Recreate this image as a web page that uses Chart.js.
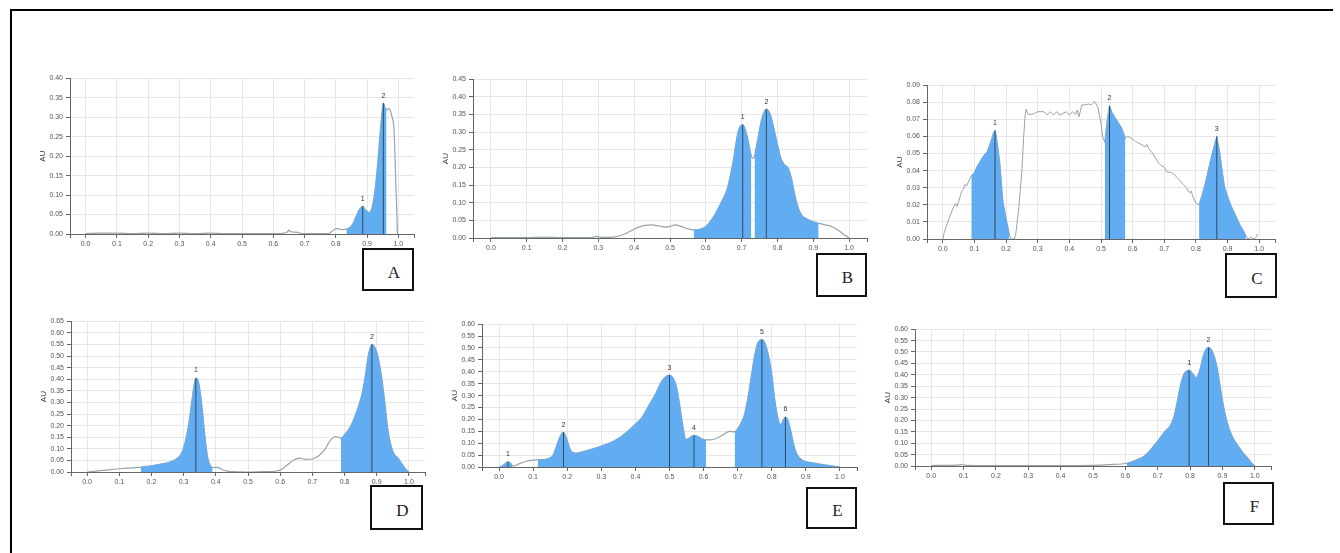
<!DOCTYPE html>
<html>
<head>
<meta charset="utf-8">
<script src="https://cdn.jsdelivr.net/npm/chart.js@4.4.1/dist/chart.umd.min.js"></script>
<style>
body { margin: 0; background: #fff; width: 1340px; height: 553px; overflow: hidden; position: relative; }
.frame { position: absolute; left: 10px; top: 9px; width: 1321px; height: 600px; border-left: 2px solid #000; border-top: 2px solid #000; }
canvas { position: absolute; }
.tag { position: absolute; box-sizing: border-box; border: 2px solid #111; background: #fff;
       font: 17px "Liberation Serif", "DejaVu Serif", serif; color: #222;
       display: flex; align-items: center; justify-content: center; padding: 6px 0 0 12px; }
</style>
</head>
<body>
<div class="frame"></div>
<script>
// shared x ticks
const xTicks = [0, 0.1, 0.2, 0.3, 0.4, 0.5, 0.6, 0.7, 0.8, 0.9, 1.0];

// A
const xA = [0, 0.05, 0.1, 0.15, 0.2, 0.25, 0.3, 0.35, 0.4, 0.45, 0.5, 0.55, 0.6, 0.63, 0.645, 0.65, 0.655, 0.665, 0.68, 0.69, 0.72, 0.76, 0.78, 0.79, 0.80, 0.81, 0.82, 0.83, 0.834, 0.845, 0.855, 0.865, 0.875, 0.886, 0.895, 0.906, 0.915, 0.925, 0.935, 0.944, 0.952, 0.957, 0.962, 0.968, 0.974, 0.98, 0.986, 0.99, 0.994, 0.997];
const yA = [0.001, 0.002, 0.002, 0.001, 0.002, 0.001, 0.002, 0.001, 0.002, 0.001, 0.001, 0.001, 0.001, 0.002, 0.005, 0.010, 0.006, 0.005, 0.004, 0.001, 0.001, 0.001, 0.002, 0.008, 0.014, 0.013, 0.011, 0.012, 0.013, 0.017, 0.027, 0.045, 0.062, 0.071, 0.062, 0.055, 0.065, 0.110, 0.190, 0.280, 0.336, 0.326, 0.318, 0.322, 0.318, 0.300, 0.270, 0.180, 0.080, 0.0];
const yTicksA = [0, 0.05, 0.10, 0.15, 0.20, 0.25, 0.30, 0.35, 0.40];
const segA = [[0.834, 0.962]];
const peaksA = [0.886, 0.952];

// B
const xB = [0, 0.05, 0.1, 0.15, 0.2, 0.25, 0.28, 0.29, 0.295, 0.30, 0.31, 0.33, 0.35, 0.37, 0.39, 0.41, 0.43, 0.45, 0.47, 0.49, 0.50, 0.515, 0.53, 0.55, 0.566, 0.58, 0.60, 0.62, 0.64, 0.66, 0.675, 0.69, 0.703, 0.715, 0.727, 0.732, 0.736, 0.745, 0.757, 0.769, 0.78, 0.79, 0.80, 0.81, 0.82, 0.83, 0.84, 0.85, 0.86, 0.87, 0.88, 0.90, 0.915, 0.93, 0.95, 0.97, 0.985, 1.0];
const yB = [0.001, 0.001, 0.001, 0.002, 0.001, 0.001, 0.001, 0.003, 0.005, 0.003, 0.002, 0.002, 0.004, 0.010, 0.020, 0.030, 0.036, 0.037, 0.034, 0.031, 0.033, 0.037, 0.033, 0.026, 0.023, 0.024, 0.033, 0.058, 0.095, 0.140, 0.210, 0.300, 0.321, 0.290, 0.232, 0.225, 0.232, 0.280, 0.340, 0.365, 0.350, 0.310, 0.265, 0.225, 0.207, 0.198, 0.165, 0.115, 0.080, 0.062, 0.055, 0.046, 0.042, 0.038, 0.033, 0.022, 0.010, 0.0];
const yTicksB = [0, 0.05, 0.10, 0.15, 0.20, 0.25, 0.30, 0.35, 0.40, 0.45];
const segB = [[0.566, 0.727], [0.736, 0.915]];
const peaksB = [0.703, 0.769];

// C
const xC = [0, 0.005, 0.01, 0.02, 0.03, 0.04, 0.045, 0.05, 0.06, 0.065, 0.07, 0.075, 0.08, 0.09, 0.10, 0.11, 0.12, 0.13, 0.14, 0.15, 0.16, 0.165, 0.17, 0.18, 0.19, 0.20, 0.21, 0.215, 0.225, 0.23, 0.24, 0.25, 0.255, 0.26, 0.263, 0.27, 0.28, 0.29, 0.30, 0.31, 0.32, 0.33, 0.34, 0.35, 0.36, 0.37, 0.38, 0.39, 0.40, 0.41, 0.42, 0.425, 0.43, 0.44, 0.45, 0.46, 0.47, 0.475, 0.48, 0.49, 0.50, 0.505, 0.512, 0.52, 0.527, 0.535, 0.545, 0.555, 0.565, 0.577, 0.585, 0.595, 0.61, 0.62, 0.63, 0.64, 0.645, 0.65, 0.66, 0.67, 0.68, 0.69, 0.70, 0.71, 0.72, 0.73, 0.74, 0.75, 0.76, 0.77, 0.78, 0.785, 0.79, 0.80, 0.81, 0.82, 0.83, 0.84, 0.85, 0.86, 0.866, 0.875, 0.88, 0.89, 0.90, 0.91, 0.92, 0.93, 0.94, 0.95, 0.958, 0.965, 0.975, 0.985, 0.99, 0.995];
const yC = [0.0, 0.004, 0.007, 0.012, 0.017, 0.021, 0.019, 0.022, 0.028, 0.029, 0.032, 0.031, 0.033, 0.037, 0.039, 0.043, 0.046, 0.049, 0.051, 0.056, 0.062, 0.0635, 0.059, 0.045, 0.022, 0.012, 0.003, 0.0, 0.0, 0.002, 0.018, 0.040, 0.058, 0.072, 0.076, 0.073, 0.073, 0.0735, 0.0745, 0.0745, 0.0745, 0.0725, 0.0745, 0.0725, 0.0745, 0.0725, 0.0735, 0.0745, 0.0725, 0.0745, 0.073, 0.0755, 0.0715, 0.0785, 0.0785, 0.079, 0.0785, 0.0795, 0.0805, 0.077, 0.068, 0.060, 0.0565, 0.070, 0.078, 0.074, 0.071, 0.068, 0.065, 0.059, 0.060, 0.059, 0.057, 0.056, 0.055, 0.054, 0.0555, 0.053, 0.051, 0.048, 0.045, 0.043, 0.042, 0.039, 0.039, 0.038, 0.036, 0.034, 0.032, 0.030, 0.027, 0.028, 0.025, 0.021, 0.020, 0.026, 0.033, 0.041, 0.049, 0.056, 0.060, 0.051, 0.044, 0.031, 0.025, 0.020, 0.016, 0.012, 0.008, 0.005, 0.002, 0.0, 0.001, 0.0, 0.001, 0.003];
const yTicksC = [0, 0.01, 0.02, 0.03, 0.04, 0.05, 0.06, 0.07, 0.08, 0.09];
const segC = [[0.09, 0.21], [0.512, 0.577], [0.81, 0.958]];
const peaksC = [0.165, 0.527, 0.866];

// D
const xD = [0, 0.05, 0.1, 0.15, 0.167, 0.2, 0.23, 0.25, 0.27, 0.285, 0.295, 0.305, 0.315, 0.325, 0.332, 0.338, 0.345, 0.352, 0.36, 0.368, 0.375, 0.383, 0.39, 0.40, 0.41, 0.42, 0.44, 0.47, 0.50, 0.55, 0.58, 0.60, 0.62, 0.64, 0.66, 0.68, 0.70, 0.72, 0.74, 0.755, 0.772, 0.789, 0.80, 0.82, 0.84, 0.855, 0.865, 0.875, 0.885, 0.895, 0.905, 0.915, 0.925, 0.935, 0.945, 0.955, 0.965, 0.975, 0.99, 1.0];
const yD = [0.0, 0.007, 0.014, 0.019, 0.021, 0.027, 0.034, 0.040, 0.050, 0.065, 0.085, 0.130, 0.200, 0.300, 0.370, 0.405, 0.395, 0.340, 0.240, 0.130, 0.060, 0.028, 0.019, 0.020, 0.018, 0.010, 0.003, 0.001, 0.0, 0.002, 0.003, 0.008, 0.028, 0.050, 0.060, 0.054, 0.056, 0.070, 0.100, 0.135, 0.153, 0.146, 0.160, 0.200, 0.270, 0.340, 0.420, 0.510, 0.550, 0.535, 0.490, 0.410, 0.300, 0.180, 0.110, 0.075, 0.062, 0.042, 0.012, 0.0];
const yTicksD = [0, 0.05, 0.10, 0.15, 0.20, 0.25, 0.30, 0.35, 0.40, 0.45, 0.50, 0.55, 0.60, 0.65];
const segD = [[0.167, 0.39], [0.789, 1.0]];
const peaksD = [0.338, 0.885];

// E
const xE = [0, 0.01, 0.018, 0.026, 0.033, 0.039, 0.045, 0.06, 0.08, 0.10, 0.114, 0.13, 0.145, 0.158, 0.168, 0.178, 0.189, 0.198, 0.207, 0.215, 0.225, 0.25, 0.30, 0.35, 0.40, 0.42, 0.44, 0.46, 0.475, 0.488, 0.50, 0.51, 0.52, 0.53, 0.54, 0.548, 0.558, 0.572, 0.585, 0.595, 0.607, 0.62, 0.64, 0.66, 0.675, 0.691, 0.70, 0.71, 0.72, 0.73, 0.74, 0.75, 0.76, 0.771, 0.78, 0.79, 0.80, 0.81, 0.82, 0.826, 0.834, 0.84, 0.848, 0.856, 0.865, 0.875, 0.89, 0.92, 0.95, 0.98, 1.0];
const yE = [0.0, 0.004, 0.015, 0.022, 0.017, 0.006, 0.005, 0.014, 0.024, 0.029, 0.030, 0.031, 0.036, 0.048, 0.085, 0.125, 0.146, 0.120, 0.080, 0.062, 0.058, 0.066, 0.088, 0.120, 0.180, 0.210, 0.260, 0.310, 0.355, 0.378, 0.386, 0.375, 0.340, 0.260, 0.165, 0.115, 0.122, 0.133, 0.127, 0.118, 0.114, 0.114, 0.122, 0.138, 0.150, 0.148, 0.160, 0.185, 0.220, 0.290, 0.380, 0.470, 0.525, 0.535, 0.520, 0.470, 0.390, 0.270, 0.195, 0.178, 0.198, 0.210, 0.195, 0.150, 0.090, 0.050, 0.028, 0.018, 0.010, 0.004, 0.0];
const yTicksE = [0, 0.05, 0.10, 0.15, 0.20, 0.25, 0.30, 0.35, 0.40, 0.45, 0.50, 0.55, 0.60];
const segE = [[0, 0.039], [0.114, 0.607], [0.691, 1.0]];
const peaksE = [0.026, 0.189, 0.50, 0.572, 0.771, 0.84];

// F
const xF = [0, 0.05, 0.09, 0.095, 0.1, 0.15, 0.2, 0.3, 0.4, 0.5, 0.55, 0.605, 0.62, 0.64, 0.66, 0.68, 0.70, 0.72, 0.74, 0.75, 0.76, 0.77, 0.78, 0.797, 0.808, 0.819, 0.83, 0.84, 0.848, 0.857, 0.866, 0.875, 0.885, 0.895, 0.905, 0.915, 0.93, 0.95, 0.965, 0.975, 0.99, 1.0];
const yF = [0.002, 0.003, 0.005, 0.007, 0.004, 0.002, 0.002, 0.002, 0.002, 0.003, 0.006, 0.012, 0.018, 0.030, 0.045, 0.075, 0.110, 0.148, 0.180, 0.215, 0.280, 0.350, 0.400, 0.420, 0.405, 0.387, 0.420, 0.480, 0.510, 0.520, 0.510, 0.480, 0.420, 0.330, 0.250, 0.190, 0.130, 0.085, 0.055, 0.040, 0.013, 0.0];
const yTicksF = [0, 0.05, 0.10, 0.15, 0.20, 0.25, 0.30, 0.35, 0.40, 0.45, 0.50, 0.55, 0.60];
const segF = [[0.605, 1.0]];
const peaksF = [0.797, 0.857];

const letters = ['A', 'B', 'C', 'D', 'E', 'F'];

// layout: plot area [left, top, right, bottom] and letter box [left, top, w, h]
const panels = [
  { xs: xA, ys: yA, yt: yTicksA, seg: segA, peaks: peaksA, area: [70, 76, 414, 234], box: [362, 248, 52, 43], smooth: true },
  { xs: xB, ys: yB, yt: yTicksB, seg: segB, peaks: peaksB, area: [473, 77, 867, 238], box: [816, 253, 51, 44], smooth: true },
  { xs: xC, ys: yC, yt: yTicksC, seg: segC, peaks: peaksC, area: [927, 83, 1275, 239], box: [1225, 253, 52, 45], smooth: false },
  { xs: xD, ys: yD, yt: yTicksD, seg: segD, peaks: peaksD, area: [71, 319, 425, 472], box: [370, 485, 53, 45], smooth: true },
  { xs: xE, ys: yE, yt: yTicksE, seg: segE, peaks: peaksE, area: [482, 322, 857, 467], box: [806, 487, 51, 42], smooth: true },
  { xs: xF, ys: yF, yt: yTicksF, seg: segF, peaks: peaksF, area: [915, 327, 1271, 466], box: [1223, 482, 51, 43], smooth: true }
];

const BLUE = '#62adf1';
const LINE = '#98a3ab';
const PEAK = '#2f4a63';

// peak numbers above each marked peak, plus the outer ticks at both ends of the x axis
const peakLabels = {
  id: 'peakLabels',
  afterDatasetsDraw(chart) {
    const p = chart.options.plugins.peakLabels;
    const ctx = chart.ctx, xs = chart.scales.x, ys = chart.scales.y;
    const a = chart.chartArea;
    ctx.save();
    ctx.strokeStyle = '#666';
    ctx.lineWidth = 1;
    ctx.beginPath();
    [a.left, a.right].forEach(px => {
      ctx.moveTo(Math.round(px) + 0.5, a.bottom);
      ctx.lineTo(Math.round(px) + 0.5, a.bottom + 4);
    });
    ctx.stroke();
    ctx.font = '7px "Liberation Sans", Arial, sans-serif';
    ctx.fillStyle = '#333';
    ctx.textAlign = 'center';
    ctx.textBaseline = 'bottom';
    p.points.forEach((pt, i) => {
      ctx.fillText(String(i + 1), xs.getPixelForValue(pt.x), ys.getPixelForValue(pt.y) - 4);
    });
    ctx.restore();
  }
};

panels.forEach((p, k) => {
  const [L, T, R, B] = p.area;
  const cv = document.createElement('canvas');
  cv.width = R - L + 37;
  cv.height = B - T + 25;
  cv.style.left = (L - 32) + 'px';
  cv.style.top = (T - 5) + 'px';
  document.body.appendChild(cv);

  const tag = document.createElement('div');
  tag.className = 'tag';
  tag.textContent = letters[k];
  tag.style.left = p.box[0] + 'px';
  tag.style.top = p.box[1] + 'px';
  tag.style.width = p.box[2] + 'px';
  tag.style.height = p.box[3] + 'px';
  document.body.appendChild(tag);

  const pts = p.xs.map((x, i) => ({ x: x, y: p.ys[i] }));
  const yAt = x => p.ys[p.xs.indexOf(x)];
  const curve = p.smooth ? { cubicInterpolationMode: 'monotone' } : { tension: 0 };

  const datasets = [];
  p.peaks.forEach(x => {
    datasets.push({ data: [{ x: x, y: 0 }, { x: x, y: yAt(x) }], borderColor: PEAK, borderWidth: 1, pointRadius: 0, fill: false, order: 1 });
  });
  p.seg.forEach(s => {
    datasets.push(Object.assign({
      data: pts.filter(d => d.x >= s[0] && d.x <= s[1]),
      backgroundColor: BLUE, borderColor: BLUE, borderWidth: 0.5, pointRadius: 0, fill: 'origin', order: 2
    }, curve));
  });
  datasets.push(Object.assign({ data: pts, borderColor: LINE, borderWidth: p.smooth ? 1.2 : 1, pointRadius: 0, fill: false, order: 3 }, curve));

  new Chart(cv, {
    type: 'line',
    data: { datasets: datasets },
    plugins: [peakLabels],
    options: {
      responsive: false,
      animation: false,
      layout: { padding: { top: 5, right: 5, left: 0, bottom: 0 } },
      plugins: {
        legend: { display: false },
        tooltip: { enabled: false },
        peakLabels: { points: p.peaks.map(x => ({ x: x, y: yAt(x) })) }
      },
      scales: {
        x: {
          type: 'linear', min: -0.05, max: 1.05,
          afterBuildTicks: s => { s.ticks = xTicks.map(v => ({ value: v })); },
          afterFit: s => { s.height = 20; },
          grid: { color: '#e6e6e6', tickColor: '#666', tickLength: 4 },
          border: { color: '#666', width: 1 },
          ticks: { font: { size: 7, family: '"Liberation Sans", Arial' }, color: '#555', padding: 2, maxRotation: 0, autoSkip: false,
                   callback: v => v.toFixed(1) }
        },
        y: {
          min: 0, max: p.yt[p.yt.length - 1],
          afterBuildTicks: s => { s.ticks = p.yt.map(v => ({ value: v })); },
          afterFit: s => { s.width = 32; },
          grid: { color: '#e6e6e6', tickColor: '#666', tickLength: 4 },
          border: { color: '#666', width: 1 },
          title: { display: true, text: 'AU', font: { size: 8, family: '"Liberation Sans", Arial' }, color: '#333', padding: 0 },
          ticks: { font: { size: 7, family: '"Liberation Sans", Arial' }, color: '#555', padding: 3, autoSkip: false,
                   callback: v => v.toFixed(2) }
        }
      }
    }
  });
});
</script>
</body>
</html>
